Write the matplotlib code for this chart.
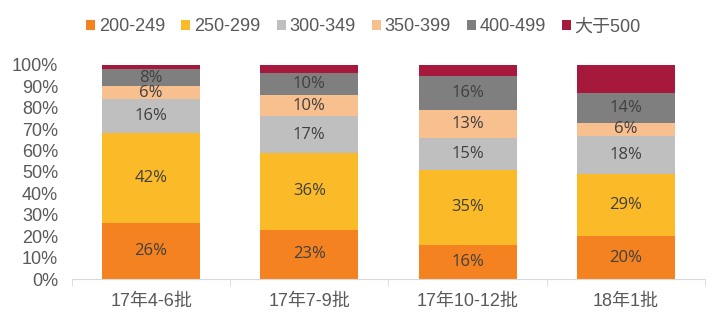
import numpy as np
import matplotlib.pyplot as plt

plt.rcParams['font.family'] = ['Liberation Sans', 'Noto Sans CJK SC']

categories = ['17年4-6批', '17年7-9批', '17年10-12批', '18年1批']
series_names = ['200-249', '250-299', '300-349', '350-399', '400-499', '大于500']
s200 = [26, 23, 16, 20]
s250 = [42, 36, 35, 29]
s300 = [16, 17, 15, 18]
s350 = [6, 10, 13, 6]
s400 = [8, 10, 16, 14]
s500 = [2, 4, 5, 13]
colors = ['#F58220', '#FBBA27', '#BFBFBF', '#F8BF8F', '#7F7F7F', '#A6193C']

data = [s200, s250, s300, s350, s400, s500]
fig = plt.figure(figsize=(7.2, 3.33), dpi=100)
ax = fig.add_axes([0.1, 0.162, 0.879, 0.643])
x = np.arange(len(categories))
bottom = np.zeros(len(categories))
handles = []
for i, (vals, name, c) in enumerate(zip(data, series_names, colors)):
    vals = np.array(vals, dtype=float)
    b = ax.bar(x, vals, 0.62, bottom=bottom, color=c, label=name)
    handles.append(b)
    if i < 5:
        for xi, v, bt in zip(x, vals, bottom):
            ax.text(xi, bt + v / 2, f'{int(v)}%', ha='center', va='center',
                    fontsize=12, color='#404040', family=['Open Sans', 'DejaVu Sans'])
    bottom += vals

ax.set_xlim(-0.5, len(categories) - 0.5)
ax.set_ylim(0, 100)
ax.set_yticks(range(0, 101, 10))
ax.set_yticklabels([f'{t}%' for t in range(0, 101, 10)])
ax.set_xticks(x)
ax.set_xticklabels(categories)
ax.set_xticks(np.arange(-0.5, len(categories)), minor=True)
ax.tick_params(axis='x', which='major', length=0, pad=10, labelsize=13, labelcolor='#595959')
ax.tick_params(axis='x', which='minor', length=5, color='#D9D9D9', direction='out')
ax.tick_params(axis='y', length=0, labelsize=13, labelcolor='#595959', pad=10)
for s in ['top', 'right', 'left']:
    ax.spines[s].set_visible(False)
ax.spines['bottom'].set_color('#D9D9D9')

fig.legend(handles, series_names, loc='center', bbox_to_anchor=(0.505, 0.92), ncol=6,
           frameon=False, fontsize=13, handlelength=0.5, handleheight=0.5,
           handletextpad=0.2, columnspacing=0.9, labelcolor='#595959')

fig.savefig('out.png', dpi=100)
